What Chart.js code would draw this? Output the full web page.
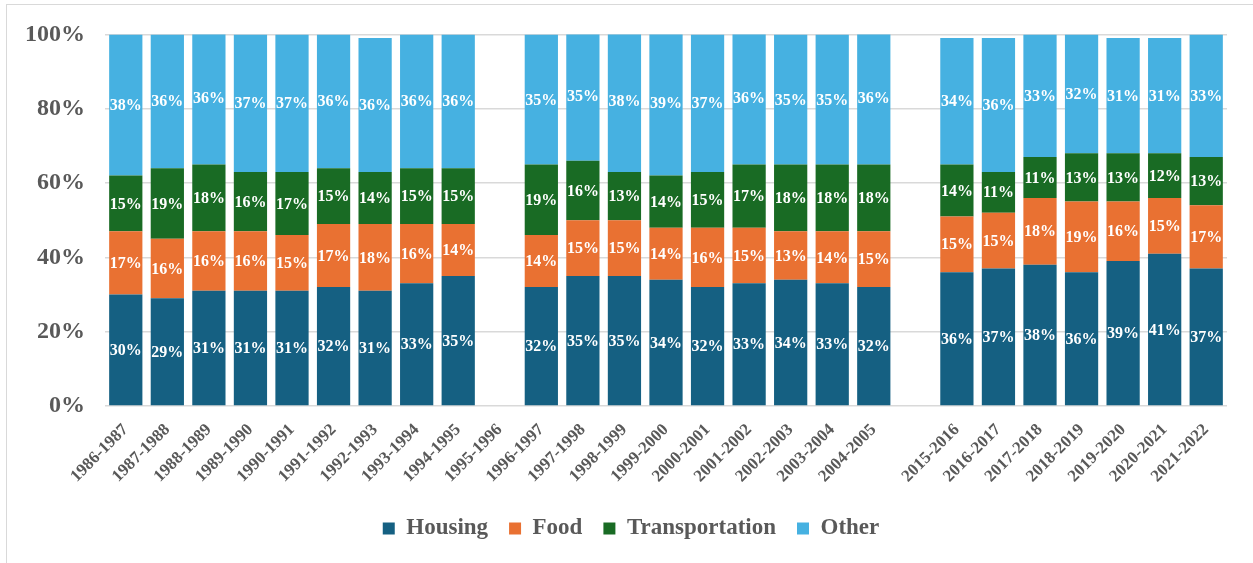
<!DOCTYPE html>
<html>
<head>
<meta charset="utf-8">
<script src="https://cdn.jsdelivr.net/npm/chart.js@4.4.1/dist/chart.umd.min.js"></script>
<style>
    html, body { margin: 0; padding: 0; background: #fff; }
    body { width: 1253px; height: 563px; position: relative; overflow: hidden; }
    .frame {
        position: absolute; left: 6px; top: 4px; width: 1300px; height: 600px;
        border: 1.5px solid #d9d9d9; box-sizing: border-box;
    }
    #chart { position: absolute; left: 0; top: 0; }
</style>
</head>
<body>
<div class="frame"></div>
<canvas id="chart" width="1253" height="563"></canvas>
<script>
// Budget shares by fiscal year (percent); '' is a spacer column
const years = [
    '1986-1987', '1987-1988', '1988-1989', '1989-1990', '1990-1991', '1991-1992',
    '1992-1993', '1993-1994', '1994-1995', '1995-1996', '1996-1997', '1997-1998',
    '1998-1999', '1999-2000', '2000-2001', '2001-2002', '2002-2003', '2003-2004',
    '2004-2005', '', '2015-2016', '2016-2017', '2017-2018', '2018-2019',
    '2019-2020', '2020-2021', '2021-2022'
];
const housing = [30, 29, 31, 31, 31, 32, 31, 33, 35, 0, 32, 35, 35, 34, 32, 33, 34, 33, 32, null, 36, 37, 38, 36, 39, 41, 37];
const food = [17, 16, 16, 16, 15, 17, 18, 16, 14, 0, 14, 15, 15, 14, 16, 15, 13, 14, 15, null, 15, 15, 18, 19, 16, 15, 17];
const transportation = [15, 19, 18, 16, 17, 15, 14, 15, 15, 0, 19, 16, 13, 14, 15, 17, 18, 18, 18, null, 14, 11, 11, 13, 13, 12, 13];
const other = [38, 36, 36, 37, 37, 36, 36, 36, 36, 0, 35, 35, 38, 39, 37, 36, 35, 35, 36, null, 34, 36, 33, 32, 31, 31, 33];

const yTicks = [0, 20, 40, 60, 80, 100];

const SERIF = "'Liberation Serif', 'Times New Roman', serif";
const GREY = '#595959';

// white value labels centred in each segment
const segmentLabels = {
    id: 'segmentLabels',
    afterDatasetsDraw(chart) {
        const ctx = chart.ctx;
        ctx.save();
        ctx.font = `bold 16px ${SERIF}`;
        ctx.fillStyle = '#ffffff';
        ctx.textAlign = 'center';
        ctx.textBaseline = 'middle';
        chart.data.datasets.forEach((ds, i) => {
            const meta = chart.getDatasetMeta(i);
            meta.data.forEach((bar, j) => {
                const v = ds.data[j];
                if (!v) return;
                const y = Math.max((bar.y + bar.base) / 2, chart.chartArea.top + 8);
                ctx.fillText(v + '%', bar.x, y + 1);
            });
        });
        ctx.restore();
    }
};

// nudge the legend a little right of the canvas centre
const legendOffset = {
    id: 'legendOffset',
    afterLayout(chart) {
        if (!chart.legend) return;
        chart.legend.left += 15;
        chart.legend.right += 15;
    }
};

function series(label, data, color) {
    return {
        label: label,
        data: data,
        backgroundColor: color,
        borderWidth: 0,
        categoryPercentage: 1,
        barPercentage: 0.8
    };
}

new Chart(document.getElementById('chart'), {
    type: 'bar',
    data: {
        labels: years,
        datasets: [
            series('Housing', housing, '#156082'),
            series('Food', food, '#E97132'),
            series('Transportation', transportation, '#196B24'),
            series('Other', other, '#46B1E1')
        ]
    },
    options: {
        responsive: false,
        animation: false,
        layout: { padding: { top: 20, right: 26, bottom: 13, left: 5 } },
        plugins: {
            tooltip: { enabled: false },
            legend: {
                position: 'bottom',
                labels: {
                    boxWidth: 12,
                    boxHeight: 12,
                    padding: 21,
                    color: GREY,
                    font: { family: SERIF, size: 23, weight: 'bold' }
                }
            }
        },
        scales: {
            x: {
                stacked: true,
                grid: { display: false },
                border: { display: false },
                afterFit: (scale) => { scale.height = 90; },
                ticks: {
                    color: GREY,
                    autoSkip: false,
                    maxRotation: 45,
                    minRotation: 45,
                    padding: 6,
                    font: { family: SERIF, size: 17, weight: 'bold' }
                }
            },
            y: {
                stacked: true,
                min: 0,
                max: 100,
                afterBuildTicks: (scale) => {
                    scale.ticks = yTicks.map(v => ({ value: v }));
                },
                grid: { color: '#d9d9d9', lineWidth: 1.5, drawTicks: false },
                border: { display: false },
                ticks: {
                    color: GREY,
                    padding: 20,
                    callback: (v) => v + '%',
                    font: { family: SERIF, size: 24, weight: 'bold' }
                }
            }
        }
    },
    plugins: [segmentLabels, legendOffset]
});
</script>
</body>
</html>
